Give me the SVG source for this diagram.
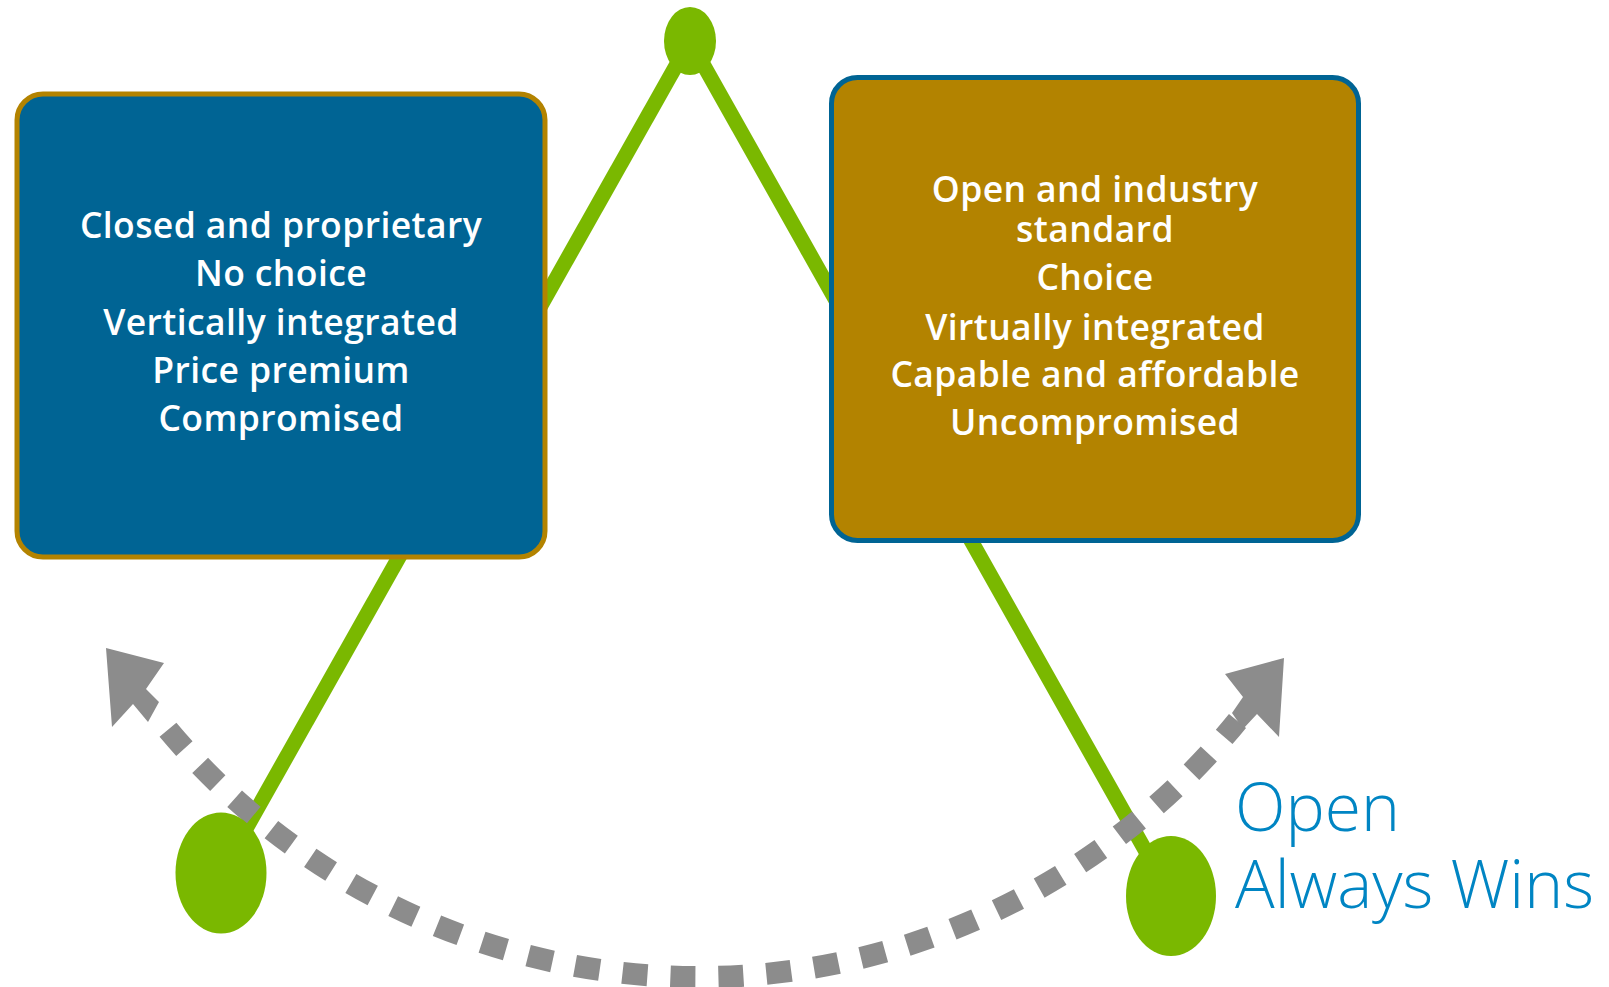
<svg xmlns="http://www.w3.org/2000/svg" width="1609" height="987" viewBox="0 0 1609 987">
<style>
.boxtxt{font-family:"Open Sans","Liberation Sans",sans-serif;font-size:35.5px;font-weight:600;letter-spacing:0.4px;fill:#ffffff;text-anchor:middle}
.slogan{font-family:"Open Sans","Liberation Sans",sans-serif;font-size:66px;font-weight:300;fill:#0085C3}
.green{stroke:#7AB800;stroke-width:15;fill:none}
.dot{fill:#7AB800}
.arc{stroke:#8C8C8C;stroke-width:22;fill:none;stroke-dasharray:25 23;stroke-dashoffset:25}
.head{fill:#8C8C8C}
</style>
<rect width="1609" height="987" fill="#ffffff"/>
<g id="connectors">
<line class="green" x1="690" y1="41" x2="221" y2="873"/>
<line class="green" x1="690" y1="41" x2="1171" y2="896"/>
</g>
<g id="box-closed">
<rect x="17" y="94" width="528" height="463" rx="26" fill="#006494" stroke="#B38300" stroke-width="5"/>
<text class="boxtxt" x="281" y="238">Closed and proprietary</text>
<text class="boxtxt" x="281" y="286">No choice</text>
<text class="boxtxt" x="281" y="335">Vertically integrated</text>
<text class="boxtxt" x="281" y="383">Price premium</text>
<text class="boxtxt" x="281" y="431">Compromised</text>
</g>
<g id="box-open">
<rect x="831.5" y="77.5" width="527" height="463" rx="26" fill="#B38300" stroke="#006494" stroke-width="5"/>
<text class="boxtxt" x="1095" y="202">Open and industry</text>
<text class="boxtxt" x="1095" y="242">standard</text>
<text class="boxtxt" x="1095" y="290">Choice</text>
<text class="boxtxt" x="1095" y="340">Virtually integrated</text>
<text class="boxtxt" x="1095" y="387">Capable and affordable</text>
<text class="boxtxt" x="1095" y="435">Uncompromised</text>
</g>
<g id="swing-arrow">
<path class="arc" d="M 153.5 712 A 694 694 0 0 0 1237.5 721"/>
<polygon class="head" points="106,648 164,663 146,689 159,702 148,722 133,704 112,727"/>
<polygon class="head" points="1284,658 1225,674 1243,697 1232,713 1243,729 1257,714 1279,737"/>
</g>
<g id="dot-top"><ellipse class="dot" cx="690" cy="41" rx="26" ry="34"/></g>
<g id="dot-left"><ellipse class="dot" cx="221" cy="873" rx="45.5" ry="60.5"/></g>
<g id="dot-right"><ellipse class="dot" cx="1171" cy="896" rx="45" ry="60"/></g>
<g id="label-open">
<text class="slogan" x="1235" y="831">Open</text>
<text class="slogan" x="1235" y="908">Always Wins</text>
</g>
</svg>
